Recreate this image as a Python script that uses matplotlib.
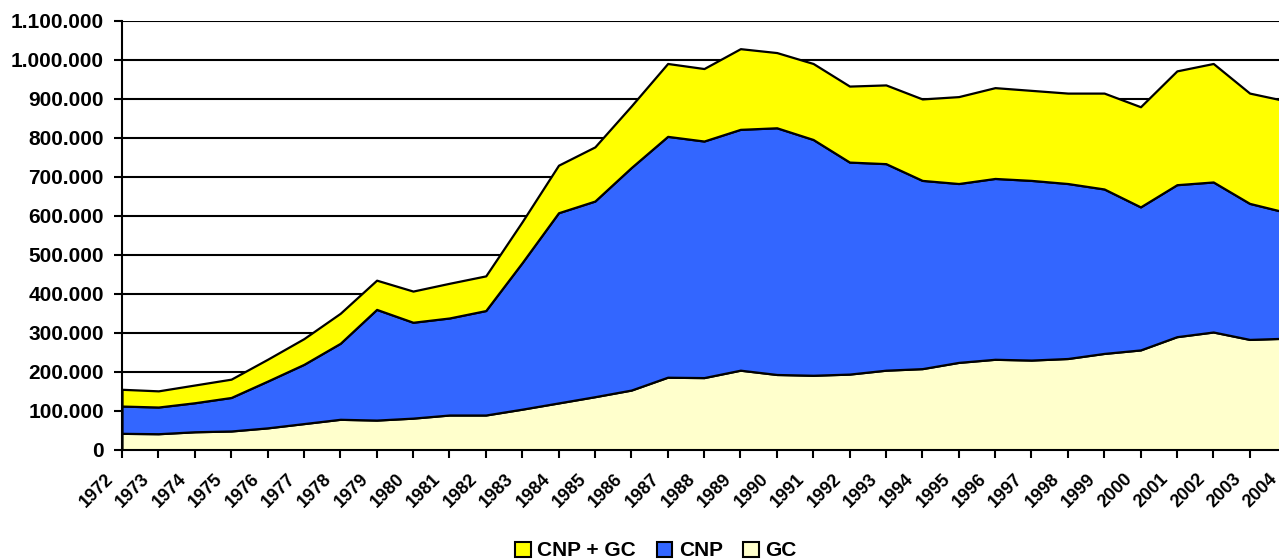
import matplotlib
matplotlib.use("Agg")
import matplotlib.pyplot as plt
from matplotlib.patches import Patch
from matplotlib.ticker import FuncFormatter, MultipleLocator, NullFormatter
from matplotlib.transforms import ScaledTranslation, blended_transform_factory

years = list(range(1972, 2005))

# layer values (stacked), units: persons
gc = [42000, 41000, 46000, 48000, 56000, 67000, 78000, 76000, 81000, 89000,
      89000, 104000, 120000, 136000, 153000, 186000, 185000, 204000, 193000, 191000,
      194000, 204000, 208000, 224000, 232000, 230000, 234000, 247000, 256000, 290000,
      302000, 283000, 286000]
cnp = [70000, 68500, 74500, 86000, 120000, 152000, 195000, 284000, 246000, 249000,
       268000, 376000, 488000, 502000, 571000, 618000, 607000, 618000, 633000, 605000,
       544000, 530000, 483000, 459000, 464000, 461000, 449000, 422000, 367000, 390000,
       385000, 349000, 323000]
cnp_gc = [43000, 41500, 45500, 47000, 56000, 66000, 77000, 75000, 80000, 89000,
          89000, 105000, 122000, 139000, 158000, 187000, 186000, 207000, 193000, 195000,
          195000, 202000, 209000, 223000, 233000, 231000, 232000, 246000, 257000, 292000,
          304000, 283000, 286000]
year_labels = [str(y) for y in years]

labels = ["GC", "CNP", "CNP + GC"]
colors = ["#FFFFCC", "#3366FF", "#FFFF00"]

plt.rcParams['font.family'] = ['Liberation Sans', 'DejaVu Sans']
plt.rcParams['font.weight'] = 'bold'

fig = plt.figure(figsize=(12.79, 5.60), dpi=100)
W, H = 1279, 560
left, right = 122, 1286
bottom, top = 449.7, 21
ax = fig.add_axes([left / W, 1 - bottom / H, (right - left) / W, (bottom - top) / H])

ax.stackplot(years, gc, cnp, cnp_gc, colors=colors, labels=labels,
             edgecolor='black', linewidth=1.6, zorder=3)

ax.set_xlim(1972, 2004)
ax.set_ylim(0, 1100000)
ax.yaxis.set_major_locator(MultipleLocator(100000))
ax.yaxis.set_major_formatter(FuncFormatter(lambda v, p: f"{int(round(v)):,}".replace(",", ".")))
ax.set_xticks(years)
ax.xaxis.set_major_formatter(NullFormatter())
for lbl in ax.get_yticklabels():
    lbl.set_fontweight('bold')

# rotated year labels, shifted slightly left of their ticks
trans = blended_transform_factory(ax.transData, ax.transAxes) + \
    ScaledTranslation(-5 / 100, -21 / 100, fig.dpi_scale_trans)
for yr, txt in zip(years, year_labels):
    ax.text(yr, 0, txt, transform=trans, rotation=45, ha='right', va='top',
            rotation_mode='default', fontsize=13, fontweight='bold', clip_on=False)

ax.grid(axis='y', color='black', linewidth=1.5, zorder=1)
ax.set_axisbelow(True)
for s in ['top', 'right']:
    ax.spines[s].set_visible(False)
for s in ['left', 'bottom']:
    ax.spines[s].set_linewidth(1.5)
    ax.spines[s].set_zorder(5)
ax.tick_params(axis='y', length=6, width=1.5, pad=7, labelsize=15)
ax.tick_params(axis='x', length=6, width=1.5)

handles = [Patch(facecolor=colors[2], edgecolor='black', linewidth=1.5, label="CNP + GC"),
           Patch(facecolor=colors[1], edgecolor='black', linewidth=1.5, label="CNP"),
           Patch(facecolor=colors[0], edgecolor='black', linewidth=1.5, label="GC")]
fig.legend(handles=handles, loc='center', bbox_to_anchor=(656 / W, 1 - 551 / H),
           ncol=3, frameon=False, prop={'weight': 'bold', 'size': 15},
           handlelength=0.75, handleheight=0.75, handletextpad=0.3, columnspacing=1.0,
           borderpad=0)

fig.savefig("out.png", dpi=100)
